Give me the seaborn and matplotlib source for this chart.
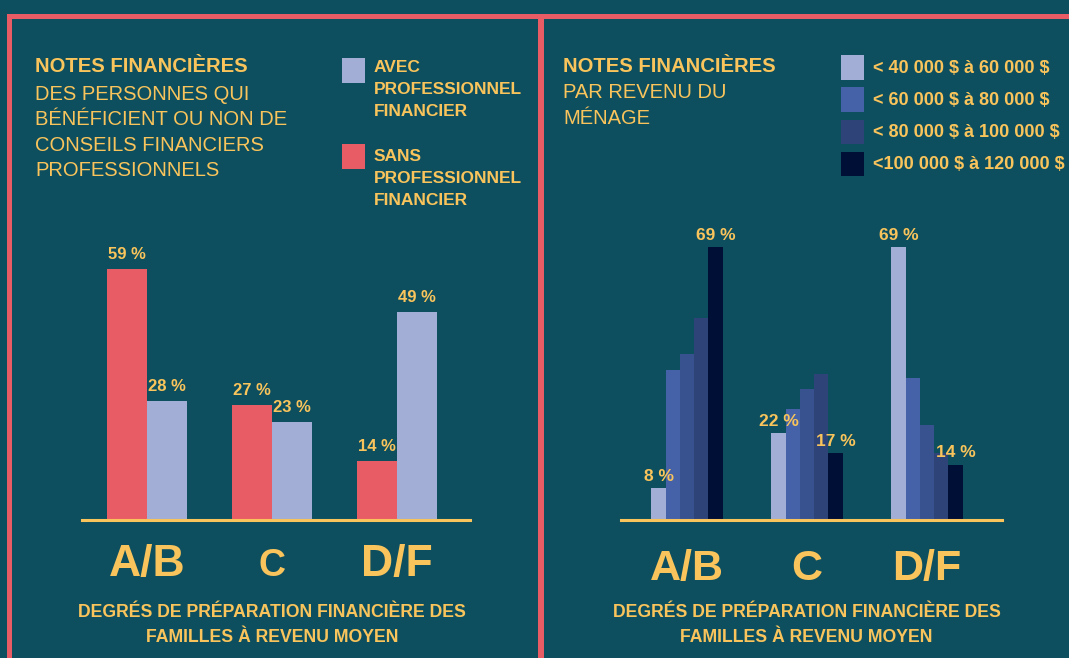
import matplotlib
matplotlib.use("Agg")
import matplotlib.pyplot as plt
from matplotlib.patches import Rectangle
import pandas as pd
import seaborn as sns

# données
notes = ["A/B", "C", "D/F"]
sans_pro = [59, 27, 14]
avec_pro = [28, 23, 49]

revenus = ["< 40 000 $ à 60 000 $", "< 60 000 $ à 80 000 $", "série 3",
           "< 80 000 $ à 100 000 $", "<100 000 $ à 120 000 $"]
rev_40_60 = [8, 22, 69]
rev_60_80 = [38, 28, 36]
rev_serie3 = [42, 33, 24]
rev_80_100 = [51, 37, 17]
rev_100_120 = [69, 17, 14]

BG = "#0e4f5f"
RED = "#e85d65"
YEL = "#f9c45b"
LIGHT = "#a2aed5"
BLUES = [LIGHT, "#4562a8", "#37528e", "#2e4378", "#000f35"]

W, H = 1069, 658

sns.set_style("white")
plt.rcParams["font.family"] = ["Liberation Sans", "DejaVu Sans"]

fig = plt.figure(figsize=(W / 100, H / 100), dpi=100, facecolor=BG)


def fx(px):
    return px / W


def fy(py):
    return 1 - py / H


def rect(x, y, w, h, color):
    fig.add_artist(Rectangle((fx(x), fy(y + h)), w / W, h / H,
                             transform=fig.transFigure, color=color, lw=0))


def txt(x, y, s, **kw):
    kw.setdefault("color", YEL)
    kw.setdefault("va", "baseline")
    fig.text(fx(x), fy(y), s.replace("$", r"\$"), **kw)


# cadres rouges
rect(7, 14, W - 7, 5, RED)
rect(7, 14, 5, H - 14, RED)
rect(538, 14, 6, H - 14, RED)


def style_axes(ax, sizes, pad):
    ax.set_facecolor("none")
    for side in ["top", "right", "left"]:
        ax.spines[side].set_visible(False)
    ax.spines["bottom"].set_color(YEL)
    ax.spines["bottom"].set_linewidth(2.2)
    ax.set_xlabel("")
    ax.set_ylabel("")
    ax.set_yticks([])
    ax.set_xticks(range(len(notes)))
    ax.set_xticklabels(notes, color=YEL, fontweight="bold", va="baseline")
    for lbl, s in zip(ax.get_xticklabels(), sizes):
        lbl.set_fontsize(s)
    ax.tick_params(axis="x", length=0, pad=pad)


# ---- panneau gauche ----
df1 = pd.DataFrame({
    "note": notes * 2,
    "pct": sans_pro + avec_pro,
    "groupe": ["sans"] * 3 + ["avec"] * 3,
})
ax1 = fig.add_axes([fx(82), fy(520), 388 / W, 300 / H])
sns.barplot(data=df1, x="note", y="pct", hue="groupe", order=notes,
            hue_order=["sans", "avec"], palette={"sans": RED, "avec": LIGHT},
            width=0.64, saturation=1, linewidth=0, legend=False, ax=ax1)
ax1.set_xlim(-0.52, 2.584)
ax1.set_ylim(0, 300 / 4.25)
for c in ax1.containers:
    ax1.bar_label(c, fmt="{:.0f} %", padding=5, color=YEL,
                  fontweight="bold", fontsize=12)
style_axes(ax1, [32, 27, 32], 40.5)

txt(35, 72, "NOTES FINANCIÈRES", fontsize=14.6, fontweight="bold")
lignes = ["DES PERSONNES QUI", "BÉNÉFICIENT OU NON DE",
          "CONSEILS FINANCIERS", "PROFESSIONNELS"]
for i, l in enumerate(lignes):
    txt(35, 100 + i * 25.4, l, fontsize=14.5)

rect(342, 58, 23, 25, LIGHT)
rect(342, 144, 23, 25, RED)
for i, l in enumerate(["AVEC", "PROFESSIONNEL", "FINANCIER"]):
    txt(374, 72 + i * 22, l, fontsize=12.5, fontweight="bold")
for i, l in enumerate(["SANS", "PROFESSIONNEL", "FINANCIER"]):
    txt(374, 161 + i * 22, l, fontsize=12.5, fontweight="bold")

# ---- panneau droit ----
series = [rev_40_60, rev_60_80, rev_serie3, rev_80_100, rev_100_120]
df2 = pd.DataFrame({
    "note": notes * len(revenus),
    "pct": sum(series, []),
    "revenu": [r for r in revenus for _ in notes],
})
ax2 = fig.add_axes([fx(621), fy(520), 381 / W, 300 / H])
sns.barplot(data=df2, x="note", y="pct", hue="revenu", order=notes,
            hue_order=revenus, palette=dict(zip(revenus, BLUES)),
            width=0.592, saturation=1, linewidth=0, legend=False, ax=ax2)
ax2.set_xlim(-0.55, 2.625)
ax2.set_ylim(0, 300 / 3.957)
for i in [0, len(revenus) - 1]:
    ax2.bar_label(ax2.containers[i], fmt="{:.0f} %", padding=3, color=YEL,
                  fontweight="bold", fontsize=12.5)
style_axes(ax2, [31, 31, 31], 43.5)

txt(563, 72.5, "NOTES FINANCIÈRES", fontsize=14.6, fontweight="bold")
for i, l in enumerate(["PAR REVENU DU", "MÉNAGE"]):
    txt(563, 98.5 + i * 26, l, fontsize=14.5)

for k, i in enumerate([0, 1, 3, 4]):
    rect(841, 55 + k * 32.3, 23, 24.5, BLUES[i])
    txt(873, 73 + k * 32, revenus[i], fontsize=13, fontweight="bold")

# titres d'axe
for cx in [272, 806.5]:
    txt(cx, 617, "DEGRÉS DE PRÉPARATION FINANCIÈRE DES", fontsize=12.7,
        fontweight="bold", ha="center")
    txt(cx, 641.5, "FAMILLES À REVENU MOYEN", fontsize=12.7,
        fontweight="bold", ha="center")

fig.savefig("out.png", dpi=100, facecolor=BG)
